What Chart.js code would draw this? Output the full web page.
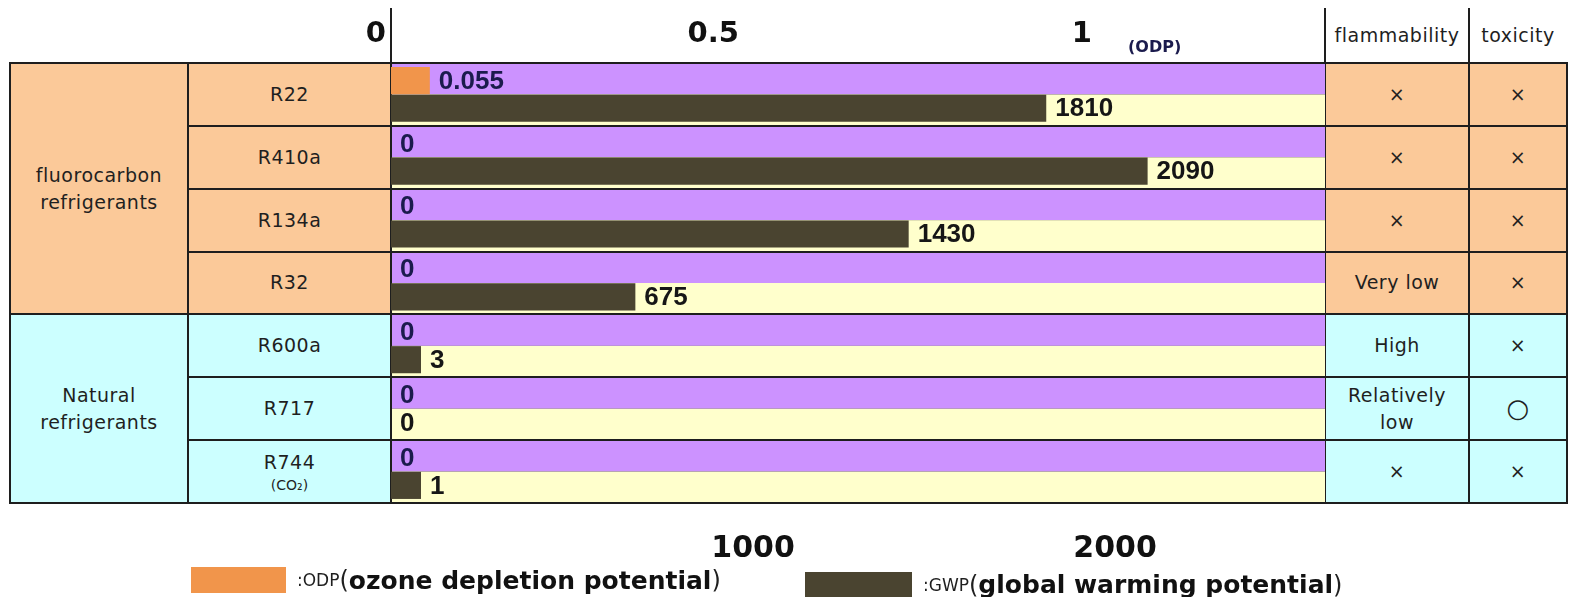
<!DOCTYPE html>
<html>
<head>
<meta charset="utf-8">
<script src="https://cdn.jsdelivr.net/npm/chart.js@4"></script>
<style>
	body { margin: 0; width: 1583px; height: 597px; overflow: hidden; background: #fff; font-family: 'DejaVu Sans', sans-serif; }
	.frame { position: absolute; left: 9px; top: 62px; width: 1559px; height: 442px; background: #1e1e1e; z-index: 1; }
	.cell { position: absolute; box-sizing: border-box; display: flex; flex-direction: column; align-items: center; justify-content: center;
		text-align: center; white-space: pre-line; font-size: 19px; letter-spacing: 0.5px; line-height: 27px; color: #1f1f1f; z-index: 1; }
	.cell .note { font-size: 14px; line-height: 18px; letter-spacing: 0; }
	.vline { position: absolute; width: 2px; background: #1e1e1e; z-index: 1; }
	#wrap { position: absolute; left: 0; top: 0; width: 1583px; height: 597px; z-index: 2; }
	.legend { position: absolute; display: flex; align-items: center; z-index: 3; white-space: nowrap; }
	.legend .box { display: inline-block; margin-right: 11px; }
	.legend .abbr { font-size: 17px; color: #1f1f1f; }
	.legend .par { font-size: 24px; color: #1f1f1f; }
	.legend .full { font-size: 25px; font-weight: bold; color: #111; }
</style>
</head>
<body>
<div class="frame"></div>
<div id="table"></div>
<div id="wrap"><canvas id="chart"></canvas></div>
<div id="legend"></div>
<script>
// Table and chart data
const categories = ['R22', 'R410a', 'R134a', 'R32', 'R600a', 'R717', 'R744'];
const nameNotes = ['', '', '', '', '', '', '(CO₂)'];
const odpValues = [0.055, 0, 0, 0, 0, 0, 0];
const gwpValues = [1810, 2090, 1430, 675, 3, 0, 1];
const odpTicks = [0, 0.5, 1];
const gwpTicks = [1000, 2000];
const groupNames = ['fluorocarbon\nrefrigerants', 'Natural\nrefrigerants'];
const groupSizes = [4, 3];
const flammability = ['×', '×', '×', 'Very low', 'High', 'Relatively\nlow', '×'];
const toxicity = ['×', '×', '×', '×', '×', '○', '×'];
const headers = ['flammability', 'toxicity'];

// Colours
const ODP_COLOR = '#f1954b';
const GWP_COLOR = '#4a4430';
const PURPLE = '#cc92ff';
const CREAM = '#ffffcc';
const LINE = '#1e1e1e';
const groupColors = ['#fbc999', '#ccffff'];

// Layout of the table around the plot
const TOP = 63, BOTTOM = 503;
const COLS = [10, 188, 391, 1325, 1469, 1567];
const ROW_H = (BOTTOM - TOP) / categories.length;

const table = document.getElementById('table');

function addCell(x0, x1, y0, y1, bg, html) {
	const d = document.createElement('div');
	d.className = 'cell';
	d.style.left = (x0 + 1) + 'px';
	d.style.width = (x1 - x0 - 2) + 'px';
	d.style.top = (y0 + 1) + 'px';
	d.style.height = (y1 - y0 - 2) + 'px';
	if (bg) d.style.background = bg;
	d.innerHTML = html;
	table.appendChild(d);
	return d;
}

function addVLine(x, y0, y1) {
	const d = document.createElement('div');
	d.className = 'vline';
	d.style.left = (x - 1) + 'px';
	d.style.top = y0 + 'px';
	d.style.height = (y1 - y0) + 'px';
	table.appendChild(d);
}

/**
 * Build the html part of the table (group, name, flammability, toxicity)
 */
function buildTable() {
	let row = 0;
	groupNames.forEach((g, gi) => {
		const y0 = TOP + row * ROW_H;
		const y1 = TOP + (row + groupSizes[gi]) * ROW_H;
		addCell(COLS[0], COLS[1], y0, y1, groupColors[gi], g);
		for (let k = 0; k < groupSizes[gi]; k++, row++) {
			const r0 = TOP + row * ROW_H, r1 = r0 + ROW_H;
			const note = nameNotes[row] ? `<span class="note">${nameNotes[row]}</span>` : '';
			addCell(COLS[1], COLS[2], r0, r1, groupColors[gi], `<span>${categories[row]}</span>${note}`);
			addCell(COLS[3], COLS[4], r0, r1, groupColors[gi], flammability[row]);
			const t = addCell(COLS[4], COLS[5], r0, r1, groupColors[gi], toxicity[row]);
			if (toxicity[row] === '○') t.style.fontSize = '26px';
		}
	});

	// header column titles
	addCell(COLS[3], COLS[4], 8, TOP, '#fff', headers[0]).style.zIndex = 0;
	addCell(COLS[4], COLS[5], 8, TOP, '#fff', headers[1]).style.zIndex = 0;
	addVLine(COLS[2], 8, TOP);
	addVLine(COLS[3], 8, TOP);
	addVLine(COLS[4], 8, TOP);
}

// row backgrounds: purple half for ODP, cream half for GWP
const rowBands = {
	id: 'rowBands',
	beforeDraw(chart) {
		const { ctx, chartArea: a, scales: { y } } = chart;
		const h = (a.bottom - a.top) / categories.length;
		ctx.save();
		categories.forEach((c, i) => {
			const mid = y.getPixelForValue(i);
			ctx.fillStyle = PURPLE;
			ctx.fillRect(a.left, mid - h / 2, a.right - a.left, h / 2);
			ctx.fillStyle = CREAM;
			ctx.fillRect(a.left, mid, a.right - a.left, h / 2);
		});
		ctx.restore();
	}
};

// value labels next to each bar, and the small (ODP) unit
const valueLabels = {
	id: 'valueLabels',
	afterDatasetsDraw(chart) {
		const { ctx } = chart;
		ctx.save();
		ctx.textAlign = 'left';
		ctx.textBaseline = 'middle';
		ctx.font = 'bold 26px "Liberation Sans", Arial, sans-serif';
		[odpValues, gwpValues].forEach((vals, d) => {
			const meta = chart.getDatasetMeta(d);
			const scale = chart.scales[meta.xAxisID];
			ctx.fillStyle = d === 0 ? '#1b1b4d' : '#161616';
			meta.data.forEach((bar, i) => {
				const end = isNaN(bar.x) ? scale.getPixelForValue(0) : bar.x;
				ctx.fillText(String(vals[i]), end + 9, bar.y + 1);
			});
		});

		const s = chart.scales.xOdp;
		ctx.font = 'bold 16px "DejaVu Sans", sans-serif';
		ctx.fillStyle = '#1b1b4d';
		ctx.fillText('(ODP)', s.getPixelForValue(1) + 31, s.bottom - 15);
		ctx.restore();
	}
};

function initChart() {
	const ctx = document.getElementById('chart').getContext('2d');

	chart = new Chart(ctx, {
		type: 'bar',
		data: {
			labels: categories,
			datasets: [{
				label: 'ODP',
				data: odpValues,
				xAxisID: 'xOdp',
				backgroundColor: ODP_COLOR,
				borderWidth: 0,
				categoryPercentage: 0.88,
				barPercentage: 0.98,
			}, {
				label: 'GWP',
				// a zero GWP has no bar, only its label
				data: gwpValues.map(v => v === 0 ? null : v),
				xAxisID: 'xGwp',
				backgroundColor: GWP_COLOR,
				borderWidth: 0,
				minBarLength: 30,
				categoryPercentage: 0.88,
				barPercentage: 0.98,
			}]
		},
		options: {
			indexAxis: 'y',
			responsive: true,
			maintainAspectRatio: false,
			animation: false,
			layout: { padding: { left: COLS[2], right: 1583 - COLS[3], top: 0, bottom: 0 } },
			scales: {
				y: {
					type: 'category',
					ticks: { display: false },
					grid: { color: LINE, lineWidth: 2, drawTicks: false, offset: true },
					border: { display: true, color: LINE, width: 2 },
				},
				xOdp: {
					type: 'linear',
					position: 'top',
					min: 0,
					max: 1.323,
					afterBuildTicks: s => { s.ticks = odpTicks.map(v => ({ value: v })); },
					afterFit: s => { s.height = TOP; },
					ticks: {
						align: 'end',
						labelOffset: -5,
						padding: 3,
						maxRotation: 0,
						color: '#111',
						font: { family: 'DejaVu Sans', weight: 'bold', size: 29 },
						callback: v => String(v),
					},
					grid: { display: false },
					border: { display: true, color: LINE, width: 2 },
				},
				xGwp: {
					type: 'linear',
					position: 'bottom',
					min: 0,
					max: 2580,
					afterBuildTicks: s => { s.ticks = gwpTicks.map(v => ({ value: v })); },
					afterFit: s => { s.height = 597 - BOTTOM; },
					ticks: {
						padding: 20,
						maxRotation: 0,
						color: '#111',
						font: { family: 'DejaVu Sans', weight: 'bold', size: 30 },
						callback: v => String(v),
					},
					grid: { display: false },
					border: { display: true, color: LINE, width: 2 },
				}
			},
			plugins: {
				legend: { display: false },
				tooltip: { enabled: false },
			}
		},
		plugins: [rowBands, valueLabels]
	});
}

/**
 * Legend under the plot, built from the chart datasets
 */
function buildLegend() {
	const names = ['ozone depletion potential', 'global warming potential'];
	const spots = [[191, 567, 95, 26], [805, 572, 107, 25]];
	const legend = document.getElementById('legend');
	chart.data.datasets.forEach((ds, i) => {
		const [x, y, w, h] = spots[i];
		const item = document.createElement('div');
		item.className = 'legend';
		item.style.left = x + 'px';
		item.style.top = y + 'px';
		item.style.height = h + 'px';
		item.innerHTML = `<span class="box" style="width:${w}px;height:${h}px;background:${ds.backgroundColor}"></span>` +
			`<span class="abbr">:${ds.label}</span><span class="par">(</span><span class="full">${names[i]}</span><span class="par">)</span>`;
		legend.appendChild(item);
	});
}

let chart = null;
buildTable();
initChart();
buildLegend();
</script>
</body>
</html>
